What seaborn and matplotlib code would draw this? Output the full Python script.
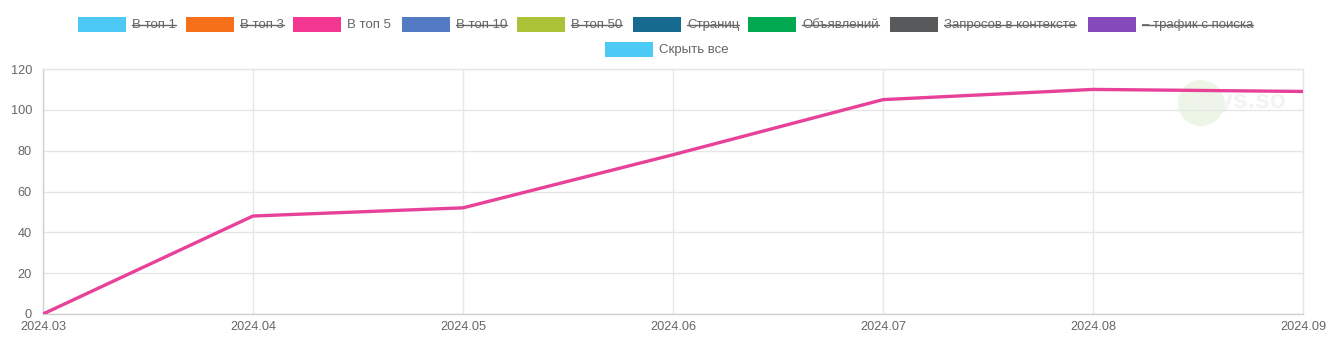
import matplotlib
matplotlib.use("Agg")
import matplotlib.pyplot as plt
import seaborn as sns
import pandas as pd
from matplotlib.patches import Rectangle, Ellipse
from matplotlib.lines import Line2D

months = ["2024.03", "2024.04", "2024.05", "2024.06", "2024.07", "2024.08", "2024.09"]
top5 = [0, 48, 52, 78, 105, 110, 109]
legend_labels = ["В топ 1", "В топ 3", "В топ 5", "В топ 10", "В топ 50", "Страниц",
                 "Объявлений", "Запросов в контексте", "– трафик с поиска"]
legend_colors = ["#4dc9f6", "#f67019", "#f53794", "#537bc4", "#acc236", "#166a8f",
                 "#00a950", "#58595b", "#8549ba"]
legend_hidden = [True, True, False, True, True, True, True, True, True]
y_ticks = [0, 20, 40, 60, 80, 100, 120]

sns.set_theme(style="white")
plt.rcParams['font.family'] = ['Liberation Sans', 'DejaVu Sans']

W, H = 1340, 363
fig = plt.figure(figsize=(W / 100, H / 100), dpi=100)
ax = fig.add_axes([43 / W, 1 - 314 / H, (1303 - 43) / W, (314 - 69) / H])
ax.set_zorder(1)
ax.patch.set_alpha(0)

# watermark (behind the axes content)
fig.add_artist(Ellipse((1201 / W, 1 - 103 / H), 46 / W, 46 / H, transform=fig.transFigure,
                       facecolor="#edf6e6", edgecolor="none", zorder=0.2))
fig.text(1238 / W, 1 - 101 / H, "keys.so", fontsize=19, fontweight="bold",
         color="#f0f0f0", ha="center", va="center", zorder=0.3, alpha=0.8)

df = pd.DataFrame({"month": months, "value": top5})
sns.lineplot(data=df, x="month", y="value", ax=ax, color="#e8419a", linewidth=2.4, zorder=5)

grid_c = "#e6e6e6"
ax.set_xlim(0, len(months) - 1)
ax.set_ylim(0, 120)
ax.set_yticks(y_ticks)
ax.set_xticks(range(len(months)))
ax.set_xticklabels(months)
ax.grid(True, color=grid_c, linewidth=1)
for s in ax.spines.values():
    s.set_color(grid_c)
    s.set_linewidth(1)
ax.spines["left"].set_color("#d0d0d0")
ax.spines["bottom"].set_color("#d0d0d0")
ax.tick_params(axis="both", colors=grid_c, labelcolor="#666666", labelsize=9.2,
               length=6, width=1, direction="out", pad=2)
ax.tick_params(axis="x", length=0, pad=5)
ax.set_xlabel("")
ax.set_ylabel("")

# legend
box_w, box_h = 48, 15
row1_x = [78, 186, 293, 402, 517, 633, 748, 890, 1088]
texts = []
for x, lab, col, hid in zip(row1_x, legend_labels, legend_colors, legend_hidden):
    fig.add_artist(Rectangle((x / W, 1 - 32 / H), box_w / W, box_h / H,
                             transform=fig.transFigure, color=col, ec="none", zorder=2))
    t = fig.text((x + box_w + 6) / W, 1 - 25 / H, lab, fontsize=9.5, color="#666666",
                 ha="left", va="center", zorder=2)
    texts.append((t, hid))
fig.add_artist(Rectangle((605 / W, 1 - 57 / H), box_w / W, box_h / H,
                         transform=fig.transFigure, color="#4dc9f6", ec="none", zorder=2))
fig.text((605 + box_w + 6) / W, 1 - 50 / H, "Скрыть все", fontsize=9.5, color="#666666",
         ha="left", va="center", zorder=2)

fig.canvas.draw()
r = fig.canvas.get_renderer()
for t, hid in texts:
    if hid:
        bb = t.get_window_extent(r)
        ym = (bb.y0 + bb.y1) / 2
        fig.add_artist(Line2D([bb.x0 / W, bb.x1 / W], [ym / H, ym / H],
                              transform=fig.transFigure, color="#666666", linewidth=1,
                              zorder=3))

fig.savefig("out.png", dpi=100)
